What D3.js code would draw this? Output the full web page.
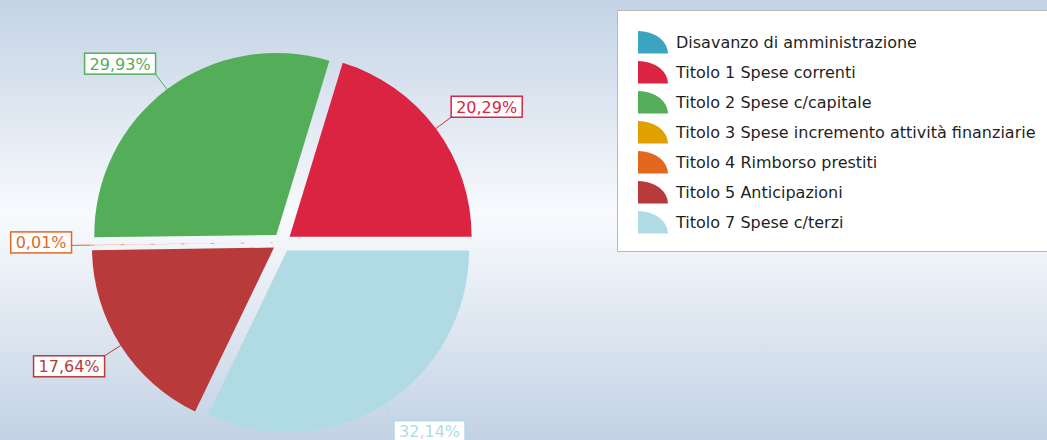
<!DOCTYPE html>
<html>
<head>
<meta charset="utf-8">
<script src="https://cdn.jsdelivr.net/npm/d3@7"></script>
<style>
  html, body { margin: 0; padding: 0; overflow: hidden; }
  svg { display: block; }
  text { font-family: "DejaVu Sans", Verdana, sans-serif; }
</style>
</head>
<body>
<svg id="chart" width="1047" height="440"></svg>
<script>
// ---- data ----
const categories = [
  "Disavanzo di amministrazione",
  "Titolo 1 Spese correnti",
  "Titolo 2 Spese c/capitale",
  "Titolo 3 Spese incremento attività finanziarie",
  "Titolo 4 Rimborso prestiti",
  "Titolo 5 Anticipazioni",
  "Titolo 7 Spese c/terzi"
];
const percentages = [0, 20.29, 29.93, 0, 0.01, 17.64, 32.14];
const colors = ["#3ba4c0", "#db2441", "#53ad59", "#dfa000", "#e2681f", "#b83a3a", "#b1dbe4"];

// ---- layout ----
const W = 1047, H = 440;
const cx = 282, cy = 242.5, R = 182, explode = 9.5, leader = 19;

const svg = d3.select("#chart");
const defs = svg.append("defs");
const grad = defs.append("linearGradient").attr("id", "bg")
  .attr("x1", 0).attr("y1", 0).attr("x2", 0).attr("y2", 1);
grad.append("stop").attr("offset", "0%").attr("stop-color", "#c4d3e5");
grad.append("stop").attr("offset", "49%").attr("stop-color", "#f8fafd");
grad.append("stop").attr("offset", "100%").attr("stop-color", "#c3d2e4");
svg.append("rect").attr("width", W).attr("height", H).attr("fill", "url(#bg)");

const color = d3.scaleOrdinal().domain(categories).range(colors);

// counterclockwise, starting at 3 o'clock
const pie = d3.pie().sort(null).value(d => d.value)
  .startAngle(Math.PI / 2).endAngle(Math.PI / 2 - 2 * Math.PI);
const data = categories.map((c, i) => ({ name: c, value: percentages[i] }));
const arcs = pie(data).filter(d => d.value > 0);

const arc = d3.arc().innerRadius(0).outerRadius(R);
const fmt = v => d3.format(".2f")(v).replace(".", ",") + "%";

const g = svg.append("g").attr("transform", `translate(${cx},${cy})`);

arcs.forEach(d => {
  const mid = (d.startAngle + d.endAngle) / 2;
  const ux = Math.sin(mid), uy = -Math.cos(mid);
  const ox = explode * ux, oy = explode * uy;
  const sg = g.append("g").attr("transform", `translate(${ox},${oy})`);
  sg.append("path").attr("d", arc(d)).attr("fill", color(d.data.name))
    .attr("stroke", d.value < 0.5 ? color(d.data.name) : "none")
    .attr("stroke-opacity", 0.35).attr("stroke-width", 1)
    .attr("stroke-dasharray", d.value < 0.5 ? "3,27" : null);
});

// labels
arcs.forEach(d => {
  const mid = (d.startAngle + d.endAngle) / 2;
  const ux = Math.sin(mid), uy = -Math.cos(mid);
  const px = cx + (explode + R) * ux, py = cy + (explode + R) * uy;
  const ex = px + leader * ux, ey = py + leader * uy;
  const col = color(d.data.name);
  svg.append("line").attr("x1", px).attr("y1", py).attr("x2", ex).attr("y2", ey)
    .attr("stroke", col).attr("stroke-width", 1);
  const t = svg.append("text").text(fmt(d.value))
    .attr("font-size", 16).attr("fill", col);
  const tw = t.node().getComputedTextLength();
  const bw = tw + 10, bh = 21;
  let bx = ux >= 0 ? ex : ex - bw;
  let by;
  if (Math.abs(uy) < 0.15) by = ey - bh / 2 - 3;
  else by = uy < 0 ? ey - bh : ey;
  svg.insert("rect", "text:last-of-type")
    .attr("x", bx).attr("y", by).attr("width", bw).attr("height", bh)
    .attr("fill", "#ffffff").attr("stroke", col).attr("stroke-width", 1.5);
  t.attr("x", bx + 5).attr("y", by + bh / 2 + 6);
  t.raise();
});

// legend
const lx = 617, ly = 10, lw = 440, lh = 241;
const leg = svg.append("g");
leg.append("rect").attr("x", lx + 0.5).attr("y", ly + 0.5).attr("width", lw).attr("height", lh)
  .attr("fill", "#ffffff").attr("stroke", "#b9b9b9").attr("stroke-width", 1);
const rowY = d3.scalePoint().domain(categories).range([42, 222]);
categories.forEach(c => {
  const y = rowY(c);
  const mx = 638, mb = y + 11.5, mt = y - 11, rx = 30, ry = mb - mt;
  leg.append("path")
    .attr("d", `M${mx},${mb} L${mx},${mt} A${rx},${ry} 0 0,1 ${mx + rx},${mb} Z`)
    .attr("fill", color(c));
  leg.append("text").attr("x", 676).attr("y", y + 6).attr("font-size", 16)
    .attr("fill", "#1f1f1f").text(c);
});
</script>
</body>
</html>
